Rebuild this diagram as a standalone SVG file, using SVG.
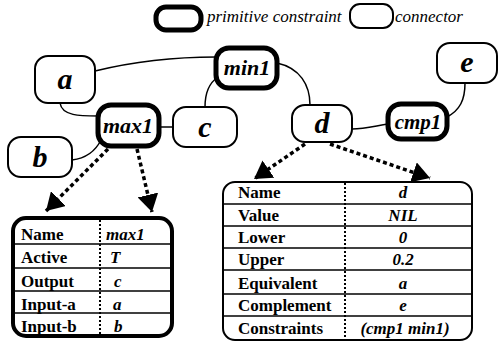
<svg xmlns="http://www.w3.org/2000/svg" width="498" height="344" viewBox="0 0 498 344">
<defs>
<style>
text{font-family:"Liberation Serif","Times New Roman","DejaVu Serif",serif}
.conn{fill:#fff;stroke:#000;stroke-width:2}
.prim{fill:#fff;stroke:#000;stroke-width:5}
.nl{font-weight:bold;font-style:italic;text-anchor:middle;fill:#000}
.edge{fill:none;stroke:#000;stroke-width:1.5}
.dash{fill:none;stroke:#000;stroke-width:3.5;stroke-dasharray:4 3}
.lab{font-weight:bold;font-size:17px;fill:#000}
.val{font-weight:bold;font-style:italic;font-size:17px;fill:#000}
.sep{stroke:#000;stroke-width:1.5}
.div{stroke:#000;stroke-width:2;stroke-dasharray:2 2}
.leg{font-style:italic;font-size:17px;fill:#000}
</style>
<marker id="ah" markerWidth="6" markerHeight="6" refX="5" refY="3" orient="auto" markerUnits="strokeWidth">
<path d="M0,0 L5,3 L0,6 z" fill="#000"/>
</marker>
</defs>
<rect width="498" height="344" fill="#fff"/>
<g id="legend">
<rect class="prim" x="156" y="7" width="45" height="23" rx="10"/>
<text class="leg" x="207" y="22">primitive constraint</text>
<rect class="conn" x="350" y="4" width="43" height="24" rx="10"/>
<text class="leg" x="395" y="22">connector</text>
</g>
<g id="connectors">
<path class="edge" d="M95,71 C140,60 180,57 216,57"/>
<path class="edge" d="M60,103 C62,116 80,116 98,116"/>
<path class="edge" d="M72,160 C88,158 96,150 101,140"/>
<path class="edge" d="M160,127 L173,127"/>
<path class="edge" d="M205,107 C205,92 209,83 218,77"/>
<path class="edge" d="M277,63 C300,68 310,85 310,105"/>
<path class="edge" d="M352,129 C365,129 375,126 388,124"/>
<path class="edge" d="M447,117 C460,110 465,100 465,83"/>
<path class="dash" d="M108,149 L46,211" marker-end="url(#ah)"/>
<path class="dash" d="M137,149 L152,212" marker-end="url(#ah)"/>
<path class="dash" d="M305,144 L254,179" marker-end="url(#ah)"/>
<path class="dash" d="M330,144 L430,178" marker-end="url(#ah)"/>
</g>
<g id="a"><rect class="conn" x="35" y="56" width="60" height="47" rx="13"/><text class="nl" x="65" y="89" font-size="30">a</text></g>
<g id="min1"><rect class="prim" x="216" y="48" width="61" height="40" rx="13"/><text class="nl" x="247" y="75" font-size="22">min1</text></g>
<g id="max1"><rect class="prim" x="98" y="105" width="61" height="41" rx="13"/><text class="nl" x="128" y="133" font-size="22">max1</text></g>
<g id="c"><rect class="conn" x="173" y="107" width="64" height="40" rx="13"/><text class="nl" x="205" y="137" font-size="30">c</text></g>
<g id="b"><rect class="conn" x="8" y="137" width="64" height="40" rx="13"/><text class="nl" x="40" y="167" font-size="30">b</text></g>
<g id="d"><rect class="conn" x="292" y="105" width="60" height="37" rx="13"/><text class="nl" x="322" y="133" font-size="30">d</text></g>
<g id="cmp1"><rect class="prim" x="388" y="104" width="59" height="35" rx="13"/><text class="nl" x="418" y="129" font-size="21">cmp1</text></g>
<g id="e"><rect class="conn" x="437" y="43" width="60" height="40" rx="13"/><text class="nl" x="467" y="72" font-size="30">e</text></g>
<g id="max1-table">
<rect x="13" y="218" width="159" height="118" rx="13" fill="#fff" stroke="#000" stroke-width="4"/>
<line class="sep" x1="15" y1="244" x2="170" y2="244"/>
<line class="sep" x1="15" y1="268" x2="170" y2="268"/>
<line class="sep" x1="15" y1="291" x2="170" y2="291"/>
<line class="sep" x1="15" y1="313" x2="170" y2="313"/>
<line class="div" x1="100" y1="220" x2="100" y2="334"/>
<text class="lab" x="21" y="240">Name</text><text class="val" x="106" y="240">max1</text>
<text class="lab" x="21" y="263">Active</text><text class="val" x="110" y="263">T</text>
<text class="lab" x="21" y="287">Output</text><text class="val" x="114" y="287">c</text>
<text class="lab" x="21" y="310">Input-a</text><text class="val" x="113" y="310">a</text>
<text class="lab" x="21" y="332">Input-b</text><text class="val" x="114" y="332">b</text>
</g>
<g id="d-table">
<rect x="223" y="182" width="249" height="158" rx="12" fill="#fff" stroke="#000" stroke-width="2"/>
<line class="sep" x1="224" y1="204" x2="471" y2="204"/>
<line class="sep" x1="224" y1="226" x2="471" y2="226"/>
<line class="sep" x1="224" y1="248" x2="471" y2="248"/>
<line class="sep" x1="224" y1="270" x2="471" y2="270"/>
<line class="sep" x1="224" y1="294" x2="471" y2="294"/>
<line class="sep" x1="224" y1="316" x2="471" y2="316"/>
<line class="div" x1="345" y1="183" x2="345" y2="339"/>
<text class="lab" x="238" y="198">Name</text><text class="val" x="403" y="198" text-anchor="middle">d</text>
<text class="lab" x="238" y="221">Value</text><text class="val" x="403" y="221" text-anchor="middle">NIL</text>
<text class="lab" x="238" y="243">Lower</text><text class="val" x="403" y="243" text-anchor="middle">0</text>
<text class="lab" x="238" y="265">Upper</text><text class="val" x="403" y="265" text-anchor="middle">0.2</text>
<text class="lab" x="238" y="289">Equivalent</text><text class="val" x="403" y="289" text-anchor="middle">a</text>
<text class="lab" x="238" y="311">Complement</text><text class="val" x="403" y="311" text-anchor="middle" font-size="16">e</text>
<text class="lab" x="238" y="334">Constraints</text><text class="val" x="405" y="334" text-anchor="middle" font-size="14">(cmp1 min1)</text>
</g>
</svg>
